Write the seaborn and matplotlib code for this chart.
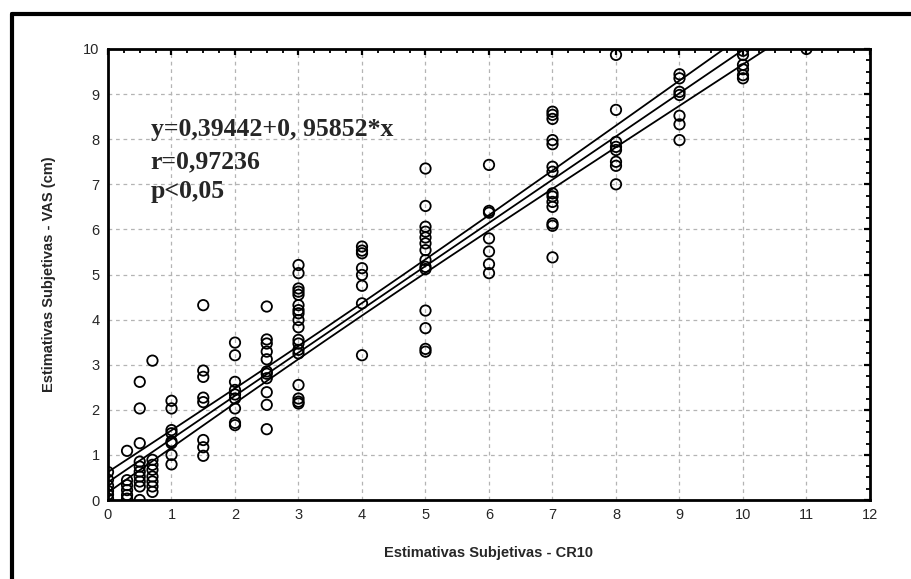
import numpy as np
import pandas as pd
import matplotlib
matplotlib.use('Agg')
import matplotlib.pyplot as plt
from matplotlib.lines import Line2D
from matplotlib.ticker import MultipleLocator
import seaborn as sns

## data
cr10_levels = [0, 0.3, 0.5, 0.7, 1, 1.5, 2, 2.5, 3, 4, 5, 6, 7, 8, 9, 10, 11]
vas_by_level = [
    [0.62, 0.45, 0.32, 0.20, 0.12, 0.03],
    [1.09, 0.44, 0.33, 0.22, 0.11, 0.03],
    [2.62, 2.03, 1.26, 0.85, 0.74, 0.63, 0.52, 0.41, 0.30, 0.0],
    [3.09, 0.89, 0.78, 0.67, 0.52, 0.41, 0.30, 0.18],
    [2.20, 2.03, 1.55, 1.48, 1.30, 1.26, 1.00, 0.79],
    [4.32, 2.87, 2.73, 2.27, 2.17, 1.33, 1.17, 0.98],
    [3.49, 3.21, 2.62, 2.44, 2.34, 2.25, 2.03, 1.71, 1.66],
    [4.29, 3.56, 3.47, 3.29, 3.12, 2.85, 2.80, 2.70, 2.39, 2.11, 1.57],
    [5.21, 5.03, 4.69, 4.62, 4.55, 4.32, 4.21, 4.14, 3.99, 3.83, 3.55, 3.47,
     3.33, 3.25, 2.55, 2.25, 2.18, 2.14],
    [5.62, 5.53, 5.47, 5.14, 4.99, 4.75, 4.36, 3.21],
    [7.35, 6.52, 6.06, 5.95, 5.82, 5.69, 5.54, 5.32, 5.17, 5.12, 4.20, 3.81,
     3.35, 3.29],
    [7.43, 6.41, 6.37, 5.80, 5.51, 5.23, 5.03],
    [8.61, 8.54, 8.45, 7.98, 7.89, 7.39, 7.28, 6.80, 6.73, 6.61, 6.50, 6.13,
     6.08, 5.38],
    [9.87, 8.65, 7.94, 7.83, 7.76, 7.50, 7.41, 7.00],
    [9.44, 9.35, 9.05, 8.98, 8.52, 8.33, 7.98],
    [9.96, 9.87, 9.65, 9.55, 9.42, 9.35],
    [10.0],
]
intercept = 0.39442
slope = 0.95852
stats_lines = ['y=0,39442+0, 95852*x', 'r=0,97236', 'p<0,05']

x_label = 'Estimativas Subjetivas - CR10'
y_label = 'Estimativas Subjetivas - VAS (cm)'

df = pd.DataFrame({
    'cr10': [lvl for lvl, vals in zip(cr10_levels, vas_by_level) for _ in vals],
    'vas': [v for vals in vas_by_level for v in vals],
})

## regression line + 95% confidence band
n = len(df)
resid = df['vas'] - (intercept + slope * df['cr10'])
s = np.sqrt((resid ** 2).sum() / (n - 2))
x_mean = df['cr10'].mean()
sxx = ((df['cr10'] - x_mean) ** 2).sum()
xs = np.linspace(0, 12, 200)
fit = intercept + slope * xs
half = 1.976 * s * np.sqrt(1 / n + (xs - x_mean) ** 2 / sxx)

sns.set_style('white')
plt.rcParams['font.family'] = ['Liberation Sans', 'DejaVu Sans']

fig = plt.figure(figsize=(9.12, 5.79), dpi=100)
ax = fig.add_axes([108 / 912, 1 - 500 / 579, 762 / 912, 451 / 579])

sns.scatterplot(data=df, x='cr10', y='vas', ax=ax, marker='o', s=56,
                facecolor='none', edgecolor='black', linewidth=1.3, zorder=3)
for yy in (fit, fit + half, fit - half):
    sns.lineplot(x=xs, y=yy, ax=ax, color='black', linewidth=1.3, zorder=4)

ax.set_xlim(0, 12)
ax.set_ylim(0, 10)
ax.xaxis.set_major_locator(MultipleLocator(1))
ax.xaxis.set_minor_locator(MultipleLocator(0.25))
ax.yaxis.set_major_locator(MultipleLocator(1))
ax.yaxis.set_minor_locator(MultipleLocator(0.25))
ax.tick_params(which='both', direction='in', top=True, right=True,
               color='black')
ax.tick_params(which='major', length=4, width=1.6, labelsize=10.5, pad=6)
ax.tick_params(which='minor', length=3, width=1.3)
ax.grid(True, which='major', color='#b4b4b4', linestyle=(0, (3, 3)),
        linewidth=0.9)
ax.set_axisbelow(True)
for sp in ax.spines.values():
    sp.set_color('black')
    sp.set_linewidth(2.0)

ax.set_xlabel(x_label, fontsize=10.5, fontweight='bold', labelpad=17)
ax.set_ylabel(y_label, fontsize=10.5, fontweight='bold', labelpad=20)

for txt, yb in zip(stats_lines, [8.06, 7.35, 6.69]):
    ax.text(0.67, yb, txt, family='Liberation Serif', fontweight='bold',
            fontsize=18.5, va='baseline', ha='left', zorder=5)

## outer frame (top and left edges only, as in the cropped figure)
fig.add_artist(Line2D([12 / 912, 1], [1 - 14 / 579, 1 - 14 / 579],
                      transform=fig.transFigure, color='black', linewidth=3))
fig.add_artist(Line2D([12 / 912, 12 / 912], [0, 1 - 14 / 579],
                      transform=fig.transFigure, color='black', linewidth=3))

fig.savefig('out.png', dpi=100)
